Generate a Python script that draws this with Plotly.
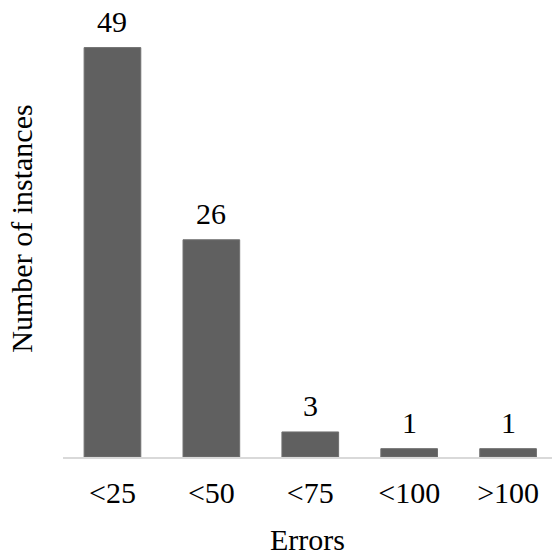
import plotly.graph_objects as go

categories = ["<25", "<50", "<75", "<100", ">100"]
values = [49, 26, 3, 1, 1]
x_title = "Errors"
y_title = "Number of instances"

FONT = "Liberation Serif"
FS = 30

fig = go.Figure()
fig.add_trace(go.Bar(
    x=list(range(len(categories))), y=values,
    marker=dict(color="#606060", line=dict(color="#707070", width=1)),
    hoverinfo="skip",
))

for i, v in enumerate(values):
    fig.add_annotation(x=i, y=v, text=str(v), showarrow=False,
                       yanchor="middle", yshift=26,
                       font=dict(family=FONT, size=FS, color="black"))

fig.update_layout(
    width=552, height=556,
    margin=dict(l=63, r=0, t=0, b=99),
    paper_bgcolor="white", plot_bgcolor="white",
    bargap=0.427, showlegend=False,
    font=dict(family=FONT, size=FS, color="black"),
)
fig.update_xaxes(
    range=[-0.5, 4.444],
    tickmode="array", tickvals=list(range(len(categories))), ticktext=categories,
    showline=True, linecolor="#d9d9d9", linewidth=1.5,
    showgrid=False, zeroline=False, ticks="", ticklabelstandoff=8,
    tickfont=dict(family=FONT, size=FS, color="black"),
    title=dict(text=x_title, font=dict(family=FONT, size=FS, color="black"), standoff=25),
)
fig.update_yaxes(
    range=[0, 54.7], showticklabels=False, showgrid=False, zeroline=False,
    showline=False,
    title=dict(text=y_title, font=dict(family=FONT, size=FS, color="black"), standoff=20),
)
fig.write_html("out.html")
